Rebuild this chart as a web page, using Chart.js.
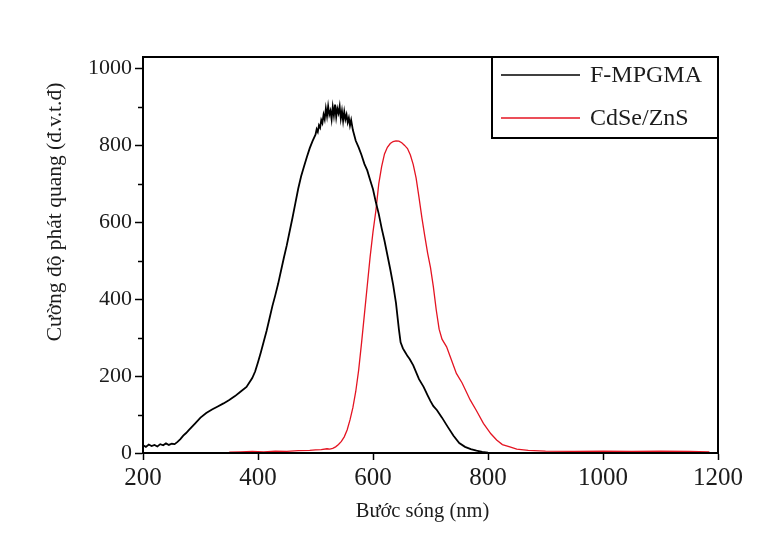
<!DOCTYPE html>
<html>
<head>
<meta charset="utf-8">
<script src="https://cdn.jsdelivr.net/npm/chart.js@4/dist/chart.umd.min.js"></script>
<style>
  html, body { margin: 0; padding: 0; background: #ffffff; }
  #wrap { width: 782px; height: 552px; }
</style>
</head>
<body>
<div id="wrap"><canvas id="c" width="782" height="552"></canvas></div>
<script>
// ---- Data ----
const seriesLabels = ["F-MPGMA", "CdSe/ZnS"];
const xTitle = "Bước sóng (nm)";
const yTitle = "Cường độ phát quang (đ.v.t.đ)";
const xTicks = [200, 400, 600, 800, 1000, 1200];
const yTicks = [0, 200, 400, 600, 800, 1000];
const yMinorTicks = [100, 300, 500, 700, 900];

// F-MPGMA (black) wavelength (nm) and intensity
const fWave = [200,205,210,215,220,225,230,235,240,245,250,255,260,265,270,275,280,290,300,310,320,330,340,350,360,370,380,390,395,400,405,410,415,420,425,430,435,440,445,450,455,460,465,470,475,480,485,490,495,500,502,504,506,508,510,512,514,516,518,520,522,524,526,528,530,532,534,536,538,540,542,544,546,548,550,552,554,556,558,560,562,565,570,575,580,585,590,595,600,605,610,615,620,625,630,635,640,645,648,652,656,660,664,670,680,688,695,700,705,711,720,730,740,750,760,770,780,790,800,820];
const fInt  = [20,16,22,18,21,17,23,20,25,21,24,23,29,36,45,52,60,76,92,104,113,121,129,138,148,160,172,195,212,236,262,290,318,350,382,410,440,474,508,540,576,612,650,688,720,745,770,793,812,828,842,835,852,846,866,858,880,868,896,876,902,880,890,868,900,878,906,874,896,884,902,870,890,864,888,868,880,860,872,852,866,840,812,795,775,752,735,710,686,652,622,585,552,515,478,438,390,322,288,272,262,252,244,228,192,172,150,135,122,112,92,68,45,26,16,10,6,3,1,0];

// CdSe/ZnS (red) wavelength (nm) and intensity
const cWave = [350,370,390,410,430,450,470,490,500,510,520,525,530,535,540,545,550,555,560,565,570,575,580,585,590,595,600,605,610,615,620,625,630,635,640,645,650,655,660,665,670,675,680,685,690,695,700,705,710,715,720,728,735,745,755,769,780,792,805,815,825,838,850,870,900,950,1000,1050,1100,1150,1185];
const cInt  = [2,3,4,3,5,4,6,7,8,9,11,10,12,16,22,30,42,60,86,118,160,215,285,360,435,510,575,630,700,745,778,795,805,810,812,811,807,800,792,775,750,715,665,612,565,520,482,432,372,322,296,276,248,207,182,138,110,77,50,34,22,16,10,7,5,4,5,4,5,4,3];

const fData = fWave.map((x, i) => ({ x: x, y: fInt[i] }));
const cData = cWave.map((x, i) => ({ x: x, y: cInt[i] }));

const SERIF = "'Liberation Serif', 'DejaVu Serif', serif";
const TXT = "#1c1c1c";

const decorPlugin = {
  id: "decor",
  afterDatasetsDraw(chart) {
    const ctx = chart.ctx;
    const a = chart.chartArea;
    const ys = chart.scales.y;
    ctx.save();
    // minor ticks on y axis
    ctx.strokeStyle = "#000";
    ctx.lineWidth = 1.5;
    yMinorTicks.forEach(v => {
      const py = Math.round(ys.getPixelForValue(v)) + 0.5;
      ctx.beginPath();
      ctx.moveTo(a.left - 5, py);
      ctx.lineTo(a.left, py);
      ctx.stroke();
    });
    // frame
    ctx.lineWidth = 2;
    ctx.strokeStyle = "#000";
    ctx.strokeRect(a.left, a.top, a.right - a.left, a.bottom - a.top);

    // legend box (top-right, attached to frame)
    const bw = 226, bh = 81;
    const bx = a.right - bw, by = a.top;
    ctx.fillStyle = "#fff";
    ctx.fillRect(bx, by, bw, bh);
    ctx.lineWidth = 2;
    ctx.strokeRect(bx, by, bw, bh);
    const ds = chart.data.datasets;
    const rows = [by + 18, by + 61];
    ctx.font = "24px " + SERIF;
    ctx.textBaseline = "middle";
    ctx.textAlign = "left";
    ds.forEach((d, i) => {
      ctx.strokeStyle = d.borderColor;
      ctx.lineWidth = 1.3;
      ctx.beginPath();
      ctx.moveTo(bx + 9, rows[i]);
      ctx.lineTo(bx + 88, rows[i]);
      ctx.stroke();
      ctx.fillStyle = TXT;
      ctx.fillText(d.label, bx + 98, rows[i] + 1);
    });

    // axis titles
    ctx.fillStyle = TXT;
    ctx.font = "20.5px " + SERIF;
    ctx.textAlign = "center";
    ctx.textBaseline = "middle";
    ctx.fillText(xTitle, (a.left + a.right) / 2 - 8, 512);
    ctx.font = "21.5px " + SERIF;
    ctx.save();
    ctx.translate(55, 212);
    ctx.rotate(-Math.PI / 2);
    ctx.fillText(yTitle, 0, 0);
    ctx.restore();
    ctx.restore();
  }
};

new Chart(document.getElementById("c"), {
  type: "scatter",
  data: {
    datasets: [
      { label: seriesLabels[0], data: fData, showLine: true, borderColor: "#000000", borderWidth: 1.8, pointRadius: 0, tension: 0 },
      { label: seriesLabels[1], data: cData, showLine: true, borderColor: "rgb(228,20,34)", borderWidth: 1.3, pointRadius: 0, tension: 0 }
    ]
  },
  options: {
    responsive: false,
    animation: false,
    devicePixelRatio: 1,
    layout: { padding: { left: 0, top: 57, right: 64, bottom: 0 } },
    plugins: { legend: { display: false }, tooltip: { enabled: false }, title: { display: false } },
    scales: {
      x: {
        type: "linear", min: 200, max: 1200,
        afterFit: s => { s.height = 99; },
        afterBuildTicks: s => { s.ticks = xTicks.map(v => ({ value: v })); },
        ticks: { padding: 3, color: TXT, font: { family: SERIF, size: 25 }, callback: v => String(v) },
        grid: { drawOnChartArea: false, drawTicks: true, tickLength: 7, tickColor: "#000", tickWidth: 1.5 },
        border: { display: true, color: "#000", width: 2 }
      },
      y: {
        type: "linear", min: 0, max: 1030,
        afterFit: s => { s.width = 143; },
        afterBuildTicks: s => { s.ticks = yTicks.map(v => ({ value: v })); },
        ticks: { padding: 3, color: TXT, font: { family: SERIF, size: 22 }, callback: v => String(v) },
        grid: { drawOnChartArea: false, drawTicks: true, tickLength: 8, tickColor: "#000", tickWidth: 1.5 },
        border: { display: true, color: "#000", width: 2 }
      }
    }
  },
  plugins: [decorPlugin]
});
</script>
</body>
</html>
